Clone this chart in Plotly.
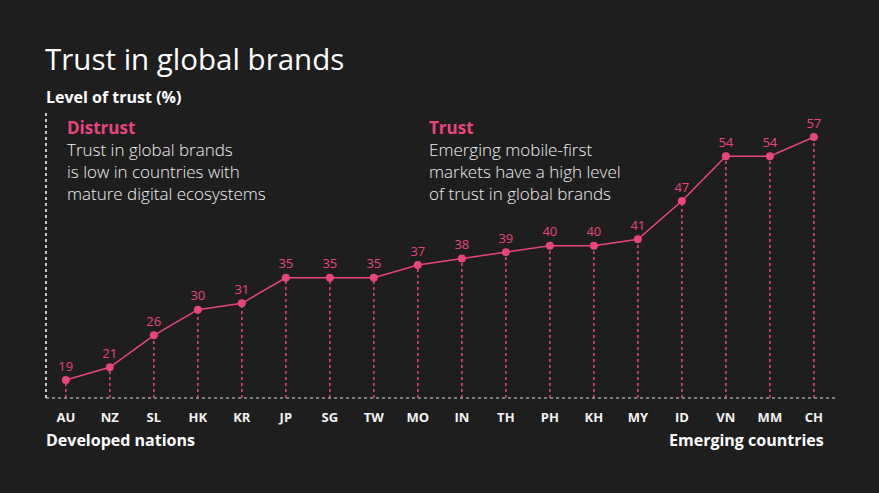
import plotly.graph_objects as go

# Trust in global brands by country, level of trust (%)
countries = ["AU", "NZ", "SL", "HK", "KR", "JP", "SG", "TW", "MO",
             "IN", "TH", "PH", "KH", "MY", "ID", "VN", "MM", "CH"]
trust = [19, 21, 26, 30, 31, 35, 35, 35, 37, 38, 39, 40, 40, 41, 47, 54, 54, 57]

PINK = "#e8457f"
BG = "#1e1e1e"
FONT = "Open Sans"
W, H = 879, 493
ML, MR, MT, MB = 46, 44, 113, 95
y_base = 16.2

# dotted drop lines from each point down to the axis
drop_x, drop_y = [], []
for c, v in zip(countries, trust):
    drop_x += [c, c, None]
    drop_y += [y_base, v, None]

fig = go.Figure()
fig.add_trace(go.Scatter(
    x=drop_x, y=drop_y, mode="lines",
    line=dict(color=PINK, width=1.5, dash="dot"),
    hoverinfo="skip", showlegend=False,
))
fig.add_trace(go.Scatter(
    x=countries, y=trust, mode="lines+markers+text",
    line=dict(color=PINK, width=1.5),
    marker=dict(color=PINK, size=8),
    text=[str(v) for v in trust], textposition="top center",
    textfont=dict(color=PINK, size=13, family=FONT),
    showlegend=False,
))

fig.update_layout(
    width=W, height=H,
    paper_bgcolor=BG, plot_bgcolor=BG,
    margin=dict(l=ML, r=MR, t=MT, b=MB),
    font=dict(family=FONT, color="#ffffff"),
    xaxis=dict(
        type="category", range=[-0.45, 17.48],
        showgrid=False, zeroline=False, showline=False,
        ticks="outside", ticklen=7, tickcolor=BG,
        tickfont=dict(size=13, color="#f2f2f2", family=FONT, weight="bold"),
    ),
    yaxis=dict(range=[y_base, 60.75], visible=False),
    shapes=[
        dict(type="line", xref="paper", yref="paper", x0=0, x1=1, y0=0, y1=0,
             line=dict(color="#9a9a9a", width=1.5, dash="dot")),
        dict(type="line", xref="paper", yref="paper", x0=0, x1=0, y0=0, y1=1,
             line=dict(color="#ffffff", width=1.5, dash="dot")),
    ],
)


def add_text(text, px, py, size, color, weight="normal", anchor="left"):
    # pixel position on the page -> paper coords of the plot area
    fig.add_annotation(
        text=text, xref="paper", yref="paper",
        x=(px - ML) / (W - ML - MR), y=1 - (py - MT) / (H - MT - MB),
        xanchor=anchor, yanchor="middle", align="left", showarrow=False,
        font=dict(size=size, color=color, family=FONT, weight=weight),
    )


add_text("Trust in global brands", 43, 58, 29.5, "#ffffff")
add_text("Level of trust (%)", 44, 97, 16, "#ffffff", weight="bold")
add_text("Developed nations", 44, 440, 16, "#ffffff", weight="bold")
add_text("Emerging countries", 826, 440, 16, "#ffffff", weight="bold", anchor="right")

notes = [
    (65, "Distrust", ["Trust in global brands", "is low in countries with", "mature digital ecosystems"]),
    (427, "Trust", ["Emerging mobile-first", "markets have a high level", "of trust in global brands"]),
]
for x, head, lines in notes:
    text = f"<b><span style='color:{PINK}'>{head}</span></b><br>" + "<br>".join(lines)
    add_text(text, x, 160, 17, "#f0f0f0", weight=300)

fig.write_html("out.html", config={"displayModeBar": False},
               post_script="document.body.style.margin='0';")
